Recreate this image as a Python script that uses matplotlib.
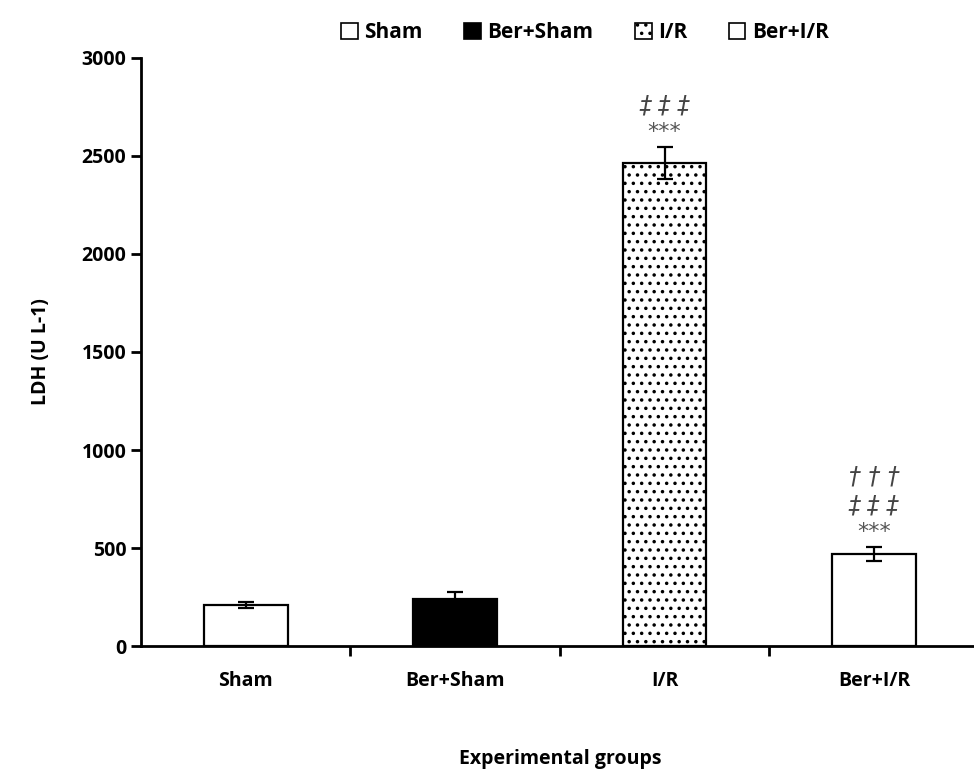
import numpy as np
import matplotlib
matplotlib.use("Agg")
import matplotlib.pyplot as plt
from matplotlib.patches import Patch

plt.rcParams['font.family'] = ['Open Sans', 'DejaVu Sans']
plt.rcParams['hatch.linewidth'] = 1.3

# dati
gruppi = ['Sham', 'Ber+Sham', 'I/R', 'Ber+I/R']
ldh = [209, 238, 2464, 469]
errori = [17, 38, 80, 37]
colori = ['white', 'black', 'white', 'white']
tratteggi = [None, None, '..', None]
asterischi = ['', '', '***', '***']
doppie_croci = ['', '', '\u2021 \u2021 \u2021', '\u2021 \u2021 \u2021']
croci = ['', '', '', '\u2020 \u2020 \u2020']

fig = plt.figure(figsize=(9.74, 7.76), dpi=100)
ax = fig.add_axes([0.1448, 0.1675, 0.860, 0.7578])

x = np.arange(len(gruppi))
for i in range(len(gruppi)):
    ax.bar(x[i], ldh[i], width=0.4, color=colori[i], edgecolor='black',
           linewidth=1.6, hatch=tratteggi[i], zorder=2)
    ax.errorbar(x[i], ldh[i], yerr=errori[i], fmt='none', ecolor='black',
                elinewidth=1.6, capsize=6, capthick=1.6, zorder=3)
    top = ldh[i] + errori[i]
    if asterischi[i]:
        ax.text(x[i], top + 25, asterischi[i], ha='center', va='bottom',
                color='#555555', fontsize=16, family=['DejaVu Sans'])
    if doppie_croci[i]:
        ax.text(x[i], top + 150, doppie_croci[i], ha='center', va='bottom',
                color='#444444', fontsize=17, style='italic',
                family=['DejaVu Sans'])
    if croci[i]:
        ax.text(x[i], top + 300, croci[i], ha='center', va='bottom',
                color='#444444', fontsize=17, style='italic',
                family=['DejaVu Sans'])

ax.set_xlim(-0.5, 3.5)
ax.set_ylim(0, 3000)
ax.set_yticks(np.arange(0, 3001, 500))
ax.set_xticks(x)
ax.set_xticklabels(gruppi, fontsize=14, fontweight='bold')
ax.set_xticks(np.arange(0.5, 3, 1), minor=True)
ax.tick_params(axis='x', which='major', length=0, pad=18)
ax.tick_params(axis='x', which='minor', length=7, width=2, direction='out')
ax.tick_params(axis='y', length=7, width=2, direction='out', labelsize=14)
for lab in ax.get_yticklabels():
    lab.set_fontweight('bold')

for s in ['top', 'right']:
    ax.spines[s].set_visible(False)
for s in ['left', 'bottom']:
    ax.spines[s].set_linewidth(2)

ax.set_ylabel('LDH (U L-1)', fontsize=14, fontweight='bold', labelpad=22)
ax.set_xlabel('Experimental groups', fontsize=14, fontweight='bold', labelpad=42)

maniglie = [Patch(facecolor=colori[i], edgecolor='black', hatch=tratteggi[i],
                  linewidth=1.2) for i in range(len(gruppi))]
ax.legend(maniglie, gruppi, loc='lower center', bbox_to_anchor=(0.53, 1.0),
          ncol=4, frameon=False, prop={'weight': 'bold', 'size': 15},
          handlelength=0.8, handleheight=0.8, handletextpad=0.3,
          columnspacing=2.0, borderaxespad=0.3)

fig.savefig('out.png', dpi=100)
